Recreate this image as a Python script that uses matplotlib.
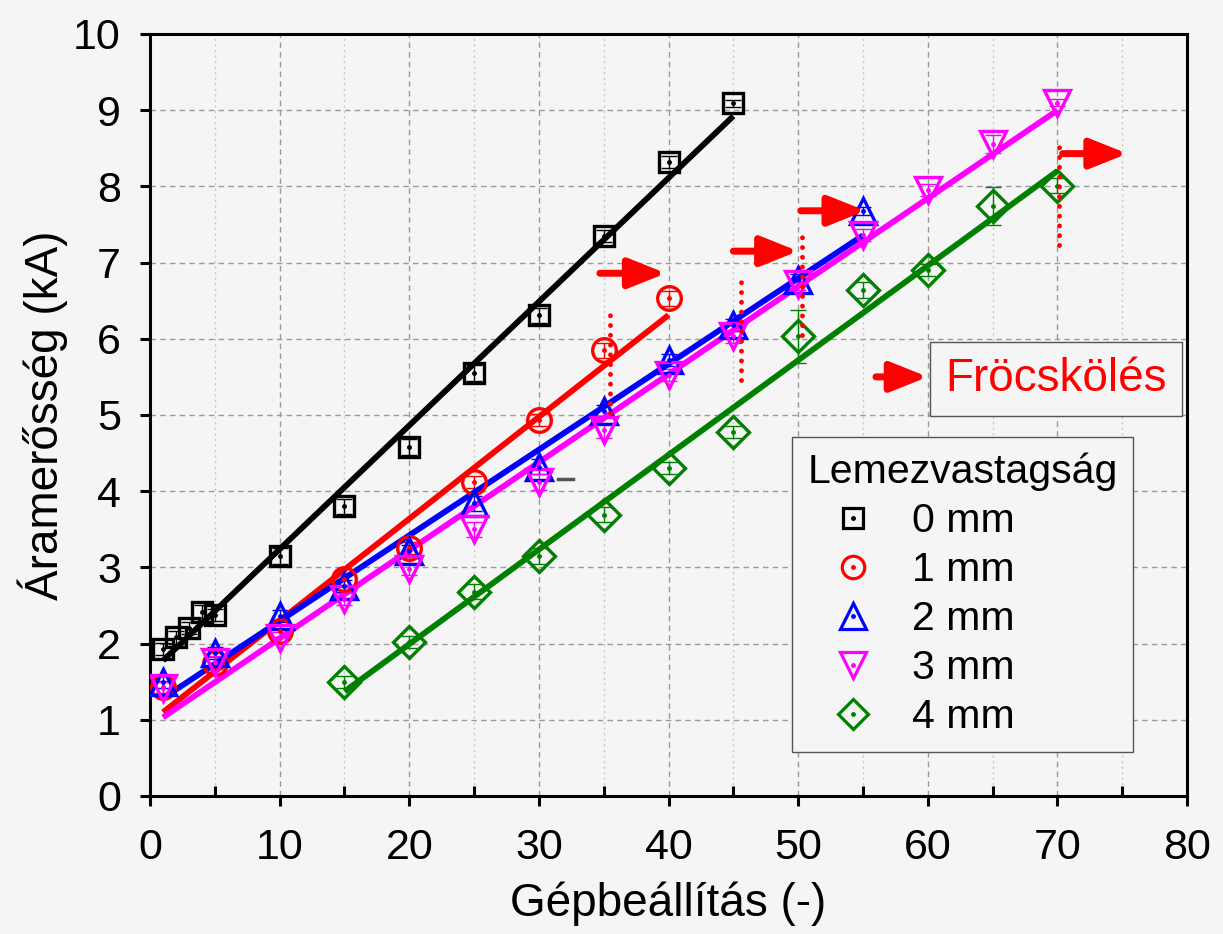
import numpy as np
import matplotlib
matplotlib.use("Agg")
import matplotlib.pyplot as plt
from matplotlib.ticker import MultipleLocator
from matplotlib.lines import Line2D

plt.rcParams['font.family'] = ['Liberation Sans', 'DejaVu Sans']

# measured data: machine setting vs current, per sheet thickness
x0 = [1, 2, 3, 4, 5, 10, 15, 20, 25, 30, 35, 40, 45]
y0 = [1.93, 2.08, 2.2, 2.42, 2.38, 3.15, 3.8, 4.58, 5.55, 6.31, 7.35, 8.32, 9.09]
e0 = [0.08, 0.08, 0.08, 0.08, 0.08, 0.1, 0.1, 0.1, 0.1, 0.1, 0.08, 0.08, 0.05]

x1 = [1, 5, 10, 15, 20, 25, 30, 35, 40]
y1 = [1.43, 1.75, 2.17, 2.85, 3.25, 4.12, 4.93, 5.85, 6.53]
e1 = [0.08, 0.08, 0.08, 0.08, 0.08, 0.08, 0.08, 0.1, 0.1]

x2 = [1, 5, 10, 15, 20, 25, 30, 35, 40, 45, 50, 55]
y2 = [1.5, 1.88, 2.36, 2.76, 3.22, 3.84, 4.32, 5.05, 5.72, 6.18, 6.77, 7.68]
e2 = [0.08, 0.08, 0.08, 0.08, 0.08, 0.1, 0.1, 0.08, 0.08, 0.08, 0.08, 0.05]

x3 = [1, 5, 10, 15, 20, 25, 30, 35, 40, 45, 50, 55, 60, 65, 70]
y3 = [1.42, 1.76, 2.07, 2.58, 2.98, 3.5, 4.12, 4.8, 5.52, 6.03, 6.72, 7.36, 7.95, 8.56, 9.1]
e3 = [0.08, 0.08, 0.08, 0.08, 0.08, 0.1, 0.1, 0.1, 0.08, 0.08, 0.08, 0.08, 0.08, 0.12, 0.05]

x4 = [15, 20, 25, 30, 35, 40, 45, 50, 55, 60, 65, 70]
y4 = [1.5, 2.02, 2.68, 3.15, 3.69, 4.3, 4.78, 6.03, 6.64, 6.9, 7.74, 8.01]
e4 = [0.08, 0.08, 0.1, 0.1, 0.1, 0.08, 0.08, 0.35, 0.1, 0.08, 0.25, 0.1]

labels = ['0 mm', '1 mm', '2 mm', '3 mm', '4 mm']
colors = ['black', 'red', 'blue', 'magenta', 'green']
markers = ['s', 'o', '^', 'v', 'D']
msizes = [15, 17, 19, 19, 16]

# spatter ("Fröcskölés") annotations
arrow_x0 = [34.7, 45.0, 50.2, 70.4]
arrow_x1 = [39.8, 50.0, 55.2, 75.4]
arrow_y = [6.86, 7.15, 7.68, 8.43]
dot_x = [35.5, 45.6, 50.3, 70.1]
dot_lo = [5.02, 5.46, 6.05, 7.23]
dot_hi = [6.35, 6.77, 7.39, 8.54]

bg = '#f5f5f5'
fig = plt.figure(figsize=(12.23, 9.34), dpi=100, facecolor=bg)
ax = fig.add_axes([0.1227, 0.1478, 0.8479, 0.8158], facecolor=bg)

series = [(x0, y0, e0), (x1, y1, e1), (x2, y2, e2), (x3, y3, e3), (x4, y4, e4)]
handles = []
for (xs, ys, es), c, m, ms, lab in zip(series, colors, markers, msizes, labels):
    xs = np.array(xs, float)
    ys = np.array(ys, float)
    k, b = np.polyfit(xs, ys, 1)
    xf = np.array([xs.min(), xs.max()])
    ax.plot(xf, k * xf + b, color=c, lw=4.2, zorder=4, solid_capstyle='butt')
    ax.errorbar(xs, ys, yerr=es, fmt='none', ecolor=c, elinewidth=1, capsize=6, capthick=1, zorder=3)
    ax.plot(xs, ys, ls='none', marker=m, ms=ms, mfc='none', mec=c, mew=2.4, zorder=5)
    ax.plot(xs, ys, ls='none', marker='o', ms=2.5, color=c, zorder=6)
    h_out = Line2D([], [], ls='none', marker=m, ms=ms * 0.95, mfc='none', mec=c, mew=2.3)
    h_dot = Line2D([], [], ls='none', marker='o', ms=2.5, color=c)
    handles.append((h_out, h_dot))

# stray cap mark
ax.plot([31.5, 32.6], [4.16, 4.16], color='#555555', lw=2.5, zorder=3)

arrow_style = dict(arrowstyle='-|>,head_length=1.5,head_width=0.6', lw=5,
                   color='red', mutation_scale=15, shrinkA=0, shrinkB=0)
for xa, xb, ya in zip(arrow_x0, arrow_x1, arrow_y):
    ax.annotate('', xy=(xb, ya), xytext=(xa, ya), arrowprops=arrow_style, zorder=7)
for xd, lo, hi in zip(dot_x, dot_lo, dot_hi):
    ax.plot([xd, xd], [lo, hi], color='red', lw=3.5, ls=(0, (0.01, 2.0)),
            dash_capstyle='round', zorder=7)

ax.annotate('', xy=(60.0, 5.5), xytext=(56.0, 5.5), arrowprops=arrow_style, zorder=7)
ax.text(69.9, 5.47, 'Fröcskölés', color='red', fontsize=33, ha='center', va='center', zorder=8,
        bbox=dict(boxstyle='square,pad=0.33', fc=bg, ec='#555555', lw=1))

ax.set_xlim(0, 80)
ax.set_ylim(0, 10)
ax.xaxis.set_major_locator(MultipleLocator(10))
ax.xaxis.set_minor_locator(MultipleLocator(5))
ax.yaxis.set_major_locator(MultipleLocator(1))
ax.grid(which='major', ls=(0, (4, 3)), color='#9a9a9a', lw=1)
ax.grid(which='minor', axis='x', ls=(0, (1.5, 2.5)), color='#c8c8c8', lw=1)
ax.set_axisbelow(True)

ax.tick_params(which='major', direction='out', length=7, width=2.2, labelsize=31)
ax.tick_params(axis='x', which='major', pad=16)
ax.tick_params(axis='y', which='major', pad=14)
ax.tick_params(which='minor', direction='in', length=7, width=2.2)
ax.tick_params(axis='y', which='minor', left=False)
for s in ax.spines.values():
    s.set_linewidth(2.2)

ax.set_xlabel('Gépbeállítás (-)', fontsize=33, labelpad=10)
ax.set_ylabel('Áramerősség (kA)', fontsize=33, labelpad=4)

leg = ax.legend(handles, labels, title='Lemezvastagság', loc='upper left',
                bbox_to_anchor=(0.619, 0.471), fontsize=29.5, title_fontsize=29.5,
                frameon=True, fancybox=False, framealpha=1, facecolor=bg, edgecolor='#555555',
                handlelength=2.2, handletextpad=0.35, labelspacing=0.27, borderpad=0.38,
                borderaxespad=0, alignment='left')
leg.get_frame().set_linewidth(1)
leg.set_zorder(9)

fig.savefig('out.png', dpi=100, facecolor=bg)
